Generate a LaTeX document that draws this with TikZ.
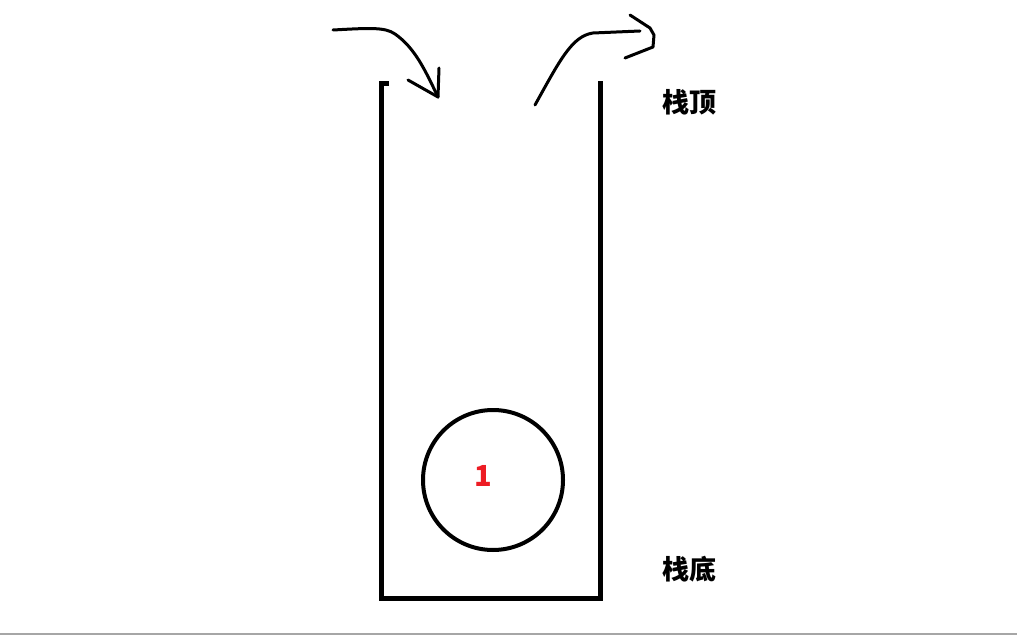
\documentclass[tikz,border=0pt]{standalone}
\usepackage{fontspec}
\newfontfamily\cjk{Noto Sans CJK SC}
\definecolor{paintred}{RGB}{237,28,36}
\tikzset{
    wall/.style={line width=5pt, line cap=rect},
    hand/.style={line width=3pt, line cap=round, line join=round},
    tag/.style={font=\cjk\bfseries\fontsize{27}{32}\selectfont},
}

\begin{document}
\begin{tikzpicture}[x=1pt, y=-1pt]
    \useasboundingbox (0,0) rectangle (1017,636);
    % stack walls
    \coordinate (lt) at (381,84);
    \coordinate (lb) at (381,598);
    \coordinate (rb) at (600,598);
    \coordinate (rt) at (600,84);
    \draw[wall] (lt) -- (lb) -- (rb) -- (rt);
    \draw[wall, line cap=butt] (lt) -- ++(8,0);
    % element
    \node[draw, circle, line width=4pt, minimum size=140pt, inner sep=0pt] (ball) at (493,480) {};
    \node[text=paintred, font=\cjk\bfseries\fontsize{29}{34}\selectfont] (one) at (483,476) {1};
    % push arrow
    \coordinate (pushs) at (333,30);
    \coordinate (pushe) at (438,97);
    \draw[hand] (pushs) .. controls (370,28) and (385,27) .. (395,34)
        .. controls (415,48) and (425,70) .. (pushe);
    \draw[hand] (439,68) -- (pushe) -- (408,80);
    % pop arrow
    \coordinate (pops) at (535,105);
    \coordinate (pope) at (640,31);
    \draw[hand] (pops) .. controls (560,60) and (572,36) .. (593,33) -- (pope);
    \draw[hand] (630,15) -- (650,28) -- (654,35) -- (653,47) -- (625,58);
    % labels
    \node[tag] (top) at (689,102) {栈顶};
    \node[tag] (bottom) at (689,569) {栈底};
    % window edge
    \draw[gray!70, line width=1.5pt] (0,634) -- (1017,634);
\end{tikzpicture}
\end{document}
